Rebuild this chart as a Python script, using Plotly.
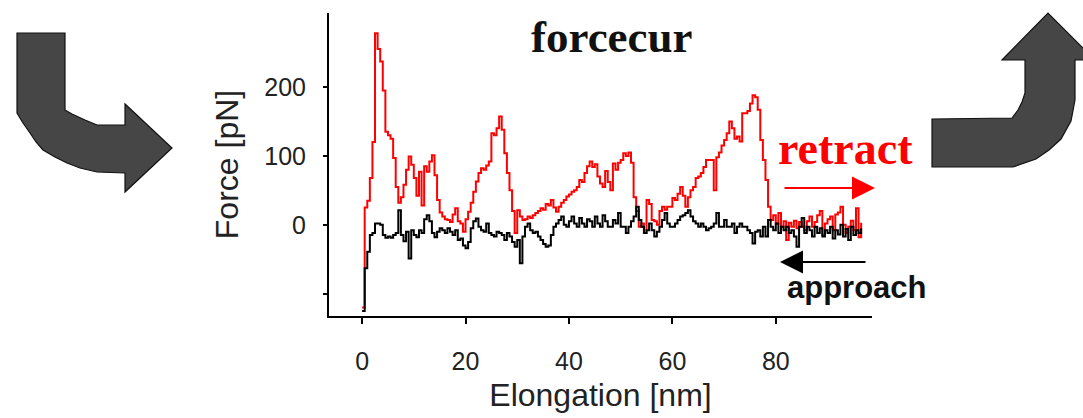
import plotly.graph_objects as go

# ---- data ----
x_step_nm = 0.5  # sampling interval of the force curves [nm]

force_retract = [
    -120, 25, 35, 68, 120, 278, 255, 237, 195, 135,
    130, 125, 97, 55, 32, 40, 58, 80, 99, 87,
    68, 42, 77, 28, 85, 77, 92, 101, 72, 36,
    18, 12, 8, 7, 4, 15, 24, 5, 2, -10,
    8, 19, 32, 48, 63, 75, 82, 80, 86, 92,
    133, 130, 140, 157, 138, 104, 75, 50, 20, -12,
    21, 12, 7, 8, 12, 10, 14, 17, 20, 24,
    22, 30, 28, 36, 25, 19, 26, 32, 36, 41,
    44, 48, 50, 55, 65, 62, 75, 85, 92, 84,
    88, 70, 60, 55, 78, 62, 50, 89, 80, 90,
    94, 104, 100, 105, 90, 40, 20, -3, 2, -12,
    36, 30, 7, 5, 0, 20, 26, 22, 26, 26,
    39, 36, 45, 55, 42, 26, 40, 50, 55, 68,
    70, 75, 84, 94, 94, 94, 50, 98, 105, 115,
    123, 133, 150, 140, 125, 128, 121, 162, 162, 165,
    176, 188, 185, 167, 123, 94, 65, 26, 7, 14,
    2, 17, -3, 5, -22, 3, -3, 6, -5, 4,
    -3, -8, 5, 12, -3, 4, 14, 20, -15, 2,
    8, 12, -8, 15, 18, 26, 0, -12, -3, 6,
    -8, 24, -18, 3,
]

force_approach = [
    -125, -63, -39, -15, -12, 2, 2, 0, -15, -19,
    -17, -19, -15, -12, 21, -15, -24, -10, -49, -8,
    -15, -18, -8, -12, 8, 14, 5, -12, -18, -10,
    -5, -8, -12, -5, -10, -15, -8, -22, -20, -30,
    -34, -25, -5, 5, 9, -3, -8, -10, 2, -12,
    -15, -17, -10, -12, -15, -22, -12, -17, -25, -32,
    -22, -56, -17, -3, 2, -8, -12, -10, -17, -22,
    -28, -32, -30, -15, -3, 2, 7, 12, 0, -3,
    5, 12, 2, -3, 10, 2, -3, 8, 5, -3,
    12, 2, -3, 14, 5, -3, -3, 7, 2, 17,
    -3, -3, -12, -3, 5, 12, 26, 7, -3, -12,
    -8, 2, -8, -17, -10, -3, 7, 17, 2, -3,
    -3, 2, 7, 12, 14, 17, 21, 12, 5, 2,
    -3, 2, -3, -8, -5, -3, 2, 17, -3, -3,
    7, -3, -3, 2, -12, -3, 2, -3, -3, -8,
    -12, -27, -10, -8, -17, -3, -17, 7, -3, -8,
    2, -12, -3, -8, -3, -12, -8, -17, -32, -3,
    10, -12, -3, -8, -17, -3, -12, -5, -17, -8,
    -12, -3, -20, -8, -14, 0, -17, -6, -22, -3,
    -15, -8, -12, -5,
]

elongation = [round(i * x_step_nm, 2) for i in range(len(force_retract))]

x_tick_vals = [0, 20, 40, 60, 80]
y_tick_vals = [-100, 0, 100, 200]
y_tick_text = ["", "0", "100", "200"]

title_text = "forcecur"
x_title = "Elongation [nm]"
y_title = "Force [pN]"
label_retract = "retract"
label_approach = "approach"

# ---- figure ----
W, H = 1083, 418
SANS = "Liberation Sans, Arial, sans-serif"
SERIF = "Liberation Serif, Times New Roman, serif"

fig = go.Figure()
fig.add_trace(go.Scatter(x=elongation, y=force_retract, mode="lines",
                         line=dict(color="#ff0000", width=2, shape="hv"),
                         name=label_retract, showlegend=False))
fig.add_trace(go.Scatter(x=elongation, y=force_approach, mode="lines",
                         line=dict(color="#000000", width=2, shape="hv"),
                         name=label_approach, showlegend=False))


def px(xp):
    return xp / W


def py(yp):
    return 1 - yp / H


def path_from_pixels(points):
    parts = []
    for i, (a, b) in enumerate(points):
        parts.append(("M" if i == 0 else "L") + f"{px(a):.5f},{py(b):.5f}")
    return " ".join(parts) + " Z"


left_arrow = [(17, 33), (65, 33), (65, 110), (72, 114), (85, 120), (97, 125),
              (125, 125), (125, 104), (172, 148), (125, 192), (125, 173),
              (97, 172), (80, 168), (67, 163), (55, 157), (43, 150), (36, 142),
              (30, 133), (23, 123), (17, 113)]
right_arrow = [(932, 119), (1012, 118), (1018, 110), (1022, 102), (1025, 93),
               (1025, 60), (1002, 60), (1048, 13), (1095, 60), (1075, 60),
               (1075, 100), (1071, 121), (1061, 139), (1049, 150), (1036, 159),
               (1013, 167), (932, 167)]

for poly in (left_arrow, right_arrow):
    fig.add_shape(type="path", xref="paper", yref="paper",
                  path=path_from_pixels(poly),
                  fillcolor="#464646", line=dict(color="#111111", width=1.2),
                  layer="above")

# title and labels
fig.add_annotation(text=f"<b>{title_text}</b>", xref="paper", yref="paper",
                   x=px(612), y=py(37), xanchor="center", yanchor="middle",
                   showarrow=False,
                   font=dict(family=SERIF, size=45, color="#111111"))
fig.add_annotation(text=f"<b>{label_retract}</b>", xref="paper", yref="paper",
                   x=px(845), y=py(148), xanchor="center", yanchor="middle",
                   showarrow=False,
                   font=dict(family=SERIF, size=46, color="#ff0000"))
fig.add_annotation(text=f"<b>{label_approach}</b>", xref="paper", yref="paper",
                   x=px(857), y=py(287), xanchor="center", yanchor="middle",
                   showarrow=False,
                   font=dict(family=SANS, size=31, color="#111111"))

# small direction arrows
fig.add_annotation(text="", xref="paper", yref="paper", x=px(875), y=py(188),
                   ax=-92, ay=0, axref="pixel", ayref="pixel", showarrow=True,
                   arrowhead=2, arrowsize=2.3, arrowwidth=2, arrowcolor="#ff0000")
fig.add_annotation(text="", xref="paper", yref="paper", x=px(780), y=py(262),
                   ax=87, ay=0, axref="pixel", ayref="pixel", showarrow=True,
                   arrowhead=2, arrowsize=2.3, arrowwidth=2, arrowcolor="#000000")

x0_px, x1_px = 329, 872
y0_px, y1_px = 316, 13
fig.update_layout(
    width=W, height=H,
    margin=dict(l=0, r=0, t=0, b=0),
    paper_bgcolor="white", plot_bgcolor="white",
    showlegend=False,
    xaxis=dict(domain=[px(x0_px), px(x1_px)], range=[-6.4, 98.6],
               showline=True, linecolor="#000000", linewidth=2,
               ticks="outside", ticklen=6, tickwidth=1.5, tickcolor="#000000",
               tickvals=x_tick_vals, ticklabelstandoff=16,
               tickfont=dict(family=SANS, size=25, color="#222222"),
               title=dict(text=x_title, standoff=10,
                          font=dict(family=SANS, size=32, color="#222222")),
               showgrid=False, zeroline=False, automargin=False),
    yaxis=dict(domain=[py(y0_px), py(y1_px)], range=[-132.4, 307.4],
               showline=True, linecolor="#000000", linewidth=2,
               ticks="outside", ticklen=4, tickwidth=2, tickcolor="#000000",
               tickvals=y_tick_vals, ticktext=y_tick_text, ticklabelstandoff=12,
               tickfont=dict(family=SANS, size=25, color="#222222"),
               title=dict(text=y_title, standoff=16,
                          font=dict(family=SANS, size=32, color="#222222")),
               showgrid=False, zeroline=False, automargin=False),
)

fig.write_html("out.html")
